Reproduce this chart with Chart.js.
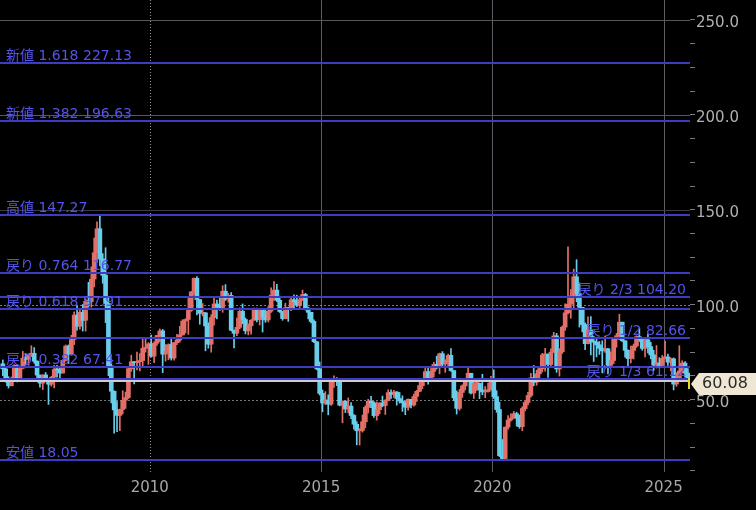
<!DOCTYPE html>
<html>
<head>
<meta charset="utf-8">
<script src="https://cdn.jsdelivr.net/npm/chart.js@4.4.1/dist/chart.umd.min.js"></script>
<style>
  html, body { margin: 0; padding: 0; background: #000; }
  #wrap { width: 756px; height: 510px; position: relative; }
</style>
</head>
<body>
<div id="wrap"><canvas id="chart"></canvas></div>
<script>
// monthly candles, Sep 2005 .. Sep 2025 (last one runs to the current price)
const firstYear = 2005;
const firstMonth = 9;

const open = [
  68.9, 66.2, 59.8, 57.3,
  61.0, 67.9, 61.4, 66.6, 71.9, 71.3, 73.9, 74.4, 70.3, 62.9, 58.7, 63.0,
  61.0, 58.1, 61.8, 65.9, 65.7, 64.0, 70.7, 78.2, 74.0, 81.7, 94.5, 88.7,
  96.0, 91.8, 101.8, 101.6, 113.5, 127.4, 140.0, 124.1, 115.5, 100.6, 67.8, 54.4,
  44.6, 41.7, 44.8, 49.7, 51.1, 66.3, 69.9, 69.5, 70.0, 70.6, 77.0, 77.3,
  79.4, 72.9, 79.7, 83.8, 86.2, 74.0, 75.6, 79.0, 71.9, 80.0, 81.4, 84.1,
  91.4, 92.2, 97.0, 106.7, 113.9, 102.7, 95.4, 95.7, 88.8, 79.2, 93.2, 100.4,
  98.8, 98.5, 107.1, 103.0, 104.9, 86.5, 85.0, 88.1, 96.5, 92.2, 86.2, 88.9,
  91.8, 97.5, 92.1, 97.2, 93.5, 92.0, 96.6, 105.0, 107.7, 102.3, 96.4, 92.7,
  98.4, 97.5, 102.6, 101.6, 99.7, 102.7, 105.4, 98.2, 96.0, 91.2, 80.5, 66.2,
  53.3, 48.2, 49.8, 47.6, 59.6, 60.3, 59.5, 47.1, 49.2, 45.1, 46.6, 41.7,
  37.0, 33.6, 33.8, 38.3, 45.9, 49.1, 48.3, 41.6, 44.7, 48.2, 46.9, 49.4,
  53.7, 52.8, 54.0, 50.6, 49.3, 48.3, 46.0, 50.2, 47.2, 51.7, 54.4, 57.4,
  60.4, 64.7, 61.6, 64.9, 68.6, 67.0, 74.2, 68.8, 69.8, 73.3, 65.3, 50.9,
  45.4, 53.8, 57.2, 60.1, 63.9, 53.5, 58.5, 58.6, 55.1, 54.1, 54.2, 55.2,
  61.1, 51.6, 44.8, 20.5, 19.0, 35.5, 39.3, 40.3, 42.6, 40.2, 35.8, 45.3,
  48.5, 52.2, 61.5, 59.2, 63.6, 66.3, 73.5, 74.0, 68.5, 75.0, 83.6, 66.2,
  75.2, 88.2, 95.7, 100.3, 104.7, 114.7, 105.8, 98.6, 89.6, 79.5, 86.5, 80.6,
  80.3, 78.9, 77.1, 75.7, 76.8, 68.1, 70.6, 81.8, 83.6, 90.8, 81.0, 76.0,
  71.7, 75.9, 78.3, 83.2, 81.9, 77.0, 81.5, 77.9, 73.6, 68.2, 69.3, 68.0,
  71.7, 72.5, 69.8, 71.5, 58.2, 60.8, 65.1, 69.3, 64.0
];
const high = [
  70.9, 66.5, 62.1, 61.9,
  68.4, 68.2, 67.2, 75.4, 74.2, 74.1, 78.4, 77.4, 70.4, 62.9, 63.1, 64.3,
  61.1, 62.3, 68.1, 68.1, 66.7, 70.8, 78.8, 78.8, 83.9, 96.2, 99.3, 97.0,
  100.1, 103.0, 111.8, 119.9, 135.1, 143.7, 147.27, 126.9, 130.0, 103.9, 71.3, 54.6,
  49.0, 45.0, 54.7, 54.0, 66.5, 73.4, 70.0, 75.0, 74.2, 82.0, 82.0, 80.0,
  84.0, 80.5, 83.9, 87.2, 87.0, 79.0, 79.4, 82.8, 80.0, 84.4, 88.6, 92.1,
  92.6, 103.4, 107.0, 114.0, 114.8, 102.7, 100.6, 95.9, 90.5, 94.7, 103.4, 102.4,
  103.7, 110.0, 110.6, 106.0, 106.4, 86.6, 92.9, 98.3, 100.4, 93.0, 89.9, 92.2,
  98.2, 98.2, 97.6, 97.8, 97.0, 99.0, 108.9, 112.2, 110.7, 104.5, 96.4, 100.8,
  98.6, 104.0, 105.2, 105.0, 104.5, 107.7, 106.0, 98.7, 96.0, 92.0, 80.5, 69.9,
  55.1, 54.2, 52.5, 59.9, 62.6, 61.6, 59.6, 49.3, 49.4, 50.9, 48.4, 42.1,
  38.4, 34.7, 41.9, 46.8, 50.2, 51.7, 49.0, 48.8, 48.4, 51.9, 50.0, 55.2,
  55.2, 54.9, 54.3, 53.8, 52.0, 49.0, 50.4, 50.2, 52.9, 54.9, 59.1, 60.5,
  66.7, 66.7, 66.6, 69.6, 72.9, 74.5, 75.3, 71.0, 74.0, 76.9, 65.4, 54.6,
  55.4, 57.8, 60.7, 66.6, 63.9, 59.9, 60.9, 58.8, 63.4, 56.9, 58.7, 62.3,
  65.7, 54.7, 48.7, 29.0, 35.6, 41.6, 42.5, 43.8, 43.4, 41.9, 46.3, 49.4,
  53.9, 63.8, 68.0, 65.5, 67.0, 74.4, 77.0, 74.0, 76.7, 85.4, 84.9, 76.9,
  88.8, 100.5, 130.5, 108.0, 118.7, 123.7, 111.5, 98.6, 90.4, 93.6, 93.7, 83.3,
  82.7, 80.6, 81.0, 83.5, 77.0, 75.1, 82.0, 84.9, 95.0, 90.8, 81.0, 76.2,
  78.2, 79.3, 83.6, 87.7, 82.0, 82.3, 84.5, 80.2, 76.0, 78.5, 72.1, 73.3,
  80.8, 74.0, 72.0, 72.0, 64.2, 78.4, 70.5, 70.0, 66.4
];
const low = [
  62.6, 59.2, 56.1, 57.3,
  60.8, 59.3, 59.6, 66.2, 68.3, 68.1, 72.6, 69.2, 59.5, 56.6, 55.3, 60.0,
  47.5, 57.1, 56.2, 61.9, 61.4, 64.0, 70.3, 69.0, 73.9, 79.0, 86.6, 87.1,
  86.1, 86.1, 98.7, 98.7, 109.3, 122.2, 120.4, 111.3, 90.5, 62.6, 48.3, 32.4,
  33.2, 33.6, 42.5, 45.4, 50.6, 64.9, 58.3, 65.6, 65.1, 67.1, 75.0, 68.6,
  72.4, 69.5, 78.5, 80.6, 64.2, 70.3, 71.0, 70.8, 70.8, 79.0, 80.3, 84.0,
  85.1, 84.4, 96.5, 105.0, 94.6, 89.7, 94.1, 75.7, 77.1, 75.0, 89.2, 92.5,
  97.0, 96.0, 102.2, 101.3, 86.2, 77.3, 83.7, 87.3, 90.0, 84.6, 84.1, 84.5,
  91.8, 90.9, 89.3, 85.6, 90.7, 90.9, 95.9, 102.2, 101.6, 95.9, 91.8, 92.5,
  91.2, 96.8, 97.4, 99.0, 98.0, 102.2, 97.2, 92.5, 90.4, 80.0, 65.7, 52.4,
  43.6, 47.4, 42.0, 47.0, 56.5, 57.4, 46.7, 37.8, 43.2, 43.0, 40.0, 34.5,
  26.2, 26.1, 32.9, 35.2, 43.0, 45.8, 40.6, 39.2, 42.5, 46.2, 42.2, 49.4,
  50.7, 51.2, 47.1, 48.2, 43.8, 42.1, 44.4, 45.6, 46.5, 49.1, 54.2, 55.8,
  59.9, 58.1, 60.1, 62.0, 66.2, 63.6, 67.0, 64.4, 67.0, 64.9, 49.4, 42.4,
  44.4, 51.2, 55.1, 60.1, 53.0, 50.6, 54.8, 50.5, 52.6, 51.0, 54.0, 55.0,
  50.6, 43.3, 20.0, 18.05, 18.2, 34.4, 38.7, 40.2, 36.1, 34.9, 33.6, 44.1,
  47.2, 51.3, 57.3, 57.6, 61.6, 64.6, 65.0, 61.7, 67.6, 74.9, 64.4, 62.4,
  74.3, 86.5, 95.2, 92.9, 98.2, 101.5, 88.2, 85.7, 76.3, 79.3, 73.6, 70.1,
  72.5, 73.8, 64.1, 74.9, 63.6, 66.8, 69.0, 77.6, 81.6, 80.6, 72.4, 67.7,
  69.3, 71.4, 77.5, 80.7, 76.0, 72.5, 74.6, 71.5, 65.3, 66.6, 66.8, 67.2,
  71.5, 68.0, 65.2, 55.1, 57.0, 60.7, 64.0, 61.9, 60.0
];
const close = [
  66.24, 59.76, 57.32, 61.04,
  67.92, 61.41, 66.63, 71.88, 71.29, 73.93, 74.40, 70.26, 62.91, 58.73, 62.97, 61.05,
  58.14, 61.79, 65.87, 65.71, 64.01, 70.68, 78.21, 74.04, 81.66, 94.53, 88.71, 95.98,
  91.75, 101.84, 101.58, 113.46, 127.35, 140.00, 124.08, 115.46, 100.64, 67.81, 54.43, 44.60,
  41.68, 44.76, 49.66, 51.12, 66.31, 69.89, 69.45, 70.00, 70.61, 77.00, 77.28, 79.36,
  72.89, 79.66, 83.76, 86.15, 73.97, 75.63, 78.95, 71.92, 79.97, 81.43, 84.11, 91.38,
  92.19, 96.97, 106.72, 113.93, 102.70, 95.42, 95.70, 88.81, 79.20, 93.19, 100.36, 98.83,
  98.48, 107.07, 103.02, 104.87, 86.53, 84.96, 88.06, 96.47, 92.19, 86.24, 88.91, 91.82,
  97.49, 92.05, 97.23, 93.46, 91.97, 96.56, 105.03, 107.65, 102.33, 96.38, 92.72, 98.42,
  97.49, 102.59, 101.58, 99.74, 102.71, 105.37, 98.17, 95.96, 91.16, 80.54, 66.15, 53.27,
  48.24, 49.76, 47.60, 59.63, 60.30, 59.47, 47.12, 49.20, 45.09, 46.59, 41.65, 37.04,
  33.62, 33.75, 38.34, 45.92, 49.10, 48.33, 41.60, 44.70, 48.24, 46.86, 49.44, 53.72,
  52.81, 54.01, 50.60, 49.33, 48.32, 46.04, 50.17, 47.23, 51.67, 54.38, 57.40, 60.42,
  64.73, 61.64, 64.94, 68.57, 67.04, 74.15, 68.76, 69.80, 73.25, 65.31, 50.93, 45.41,
  53.79, 57.22, 60.14, 63.91, 53.50, 58.47, 58.58, 55.10, 54.07, 54.18, 55.17, 61.06,
  51.56, 44.76, 20.48, 19.00, 35.49, 39.27, 40.27, 42.61, 40.22, 35.79, 45.34, 48.52,
  52.20, 61.50, 59.16, 63.58, 66.32, 73.47, 73.95, 68.50, 75.03, 83.57, 66.18, 75.21,
  88.15, 95.72, 100.28, 104.69, 114.67, 105.76, 98.62, 89.55, 79.49, 86.53, 80.55, 80.26,
  78.87, 77.05, 75.67, 76.78, 68.09, 70.64, 81.80, 83.63, 90.79, 81.02, 75.96, 71.65,
  75.85, 78.26, 83.17, 81.93, 76.99, 81.54, 77.91, 73.55, 68.17, 69.26, 68.00, 71.72,
  72.53, 69.76, 71.48, 58.21, 60.79, 65.11, 69.26, 64.01, 60.08
];

// fibonacci levels drawn across the chart
const fibValues = [227.13, 196.63, 147.27, 116.77, 104.20, 97.91, 82.66, 67.41, 61.12, 18.05];
const fibLabels = ['新値 1.618 227.13', '新値 1.382 196.63', '高値 147.27', '戻り 0.764 116.77',
  '戻り 2/3 104.20', '戻り 0.618 97.91', '戻り 1/2 82.66', '戻り 0.382 67.41', '戻り 1/3 61.12', '安値 18.05'];

const yearTicks = [2010, 2015, 2020, 2025];
const priceTicks = [12.5, 25, 37.5, 50, 62.5, 75, 87.5, 100, 112.5, 125, 137.5, 150,
  162.5, 175, 187.5, 200, 212.5, 225, 237.5, 250];
const priceGrid = [50, 100, 150, 200, 250];

const xMin = 2005.626, xMax = 2025.77;
const yMin = 11.9, yMax = 260.45;

const UP = 'rgb(226,112,104)';
const DOWN = 'rgb(104,206,236)';
const FONT = '"DejaVu Sans", "Noto Sans CJK JP", sans-serif';

const xs = close.map((_, i) => firstYear + (firstMonth - 1 + i + 0.5) / 12);
const candleColor = ctx => close[ctx.dataIndex] >= open[ctx.dataIndex] ? UP : DOWN;

const overlay = {
  id: 'overlay',
  beforeDatasetsDraw(chart) {
    const {ctx, chartArea: a, scales: {x, y}} = chart;
    ctx.save();
    ctx.lineWidth = 1;
    yearTicks.forEach((v, i) => {
      const px = Math.round(x.getPixelForValue(v)) + 0.5;
      ctx.setLineDash(i === 0 ? [1, 2] : []);
      ctx.strokeStyle = i === 0 ? 'rgba(170,170,170,0.85)' : 'rgb(92,92,100)';
      ctx.beginPath(); ctx.moveTo(px, a.top); ctx.lineTo(px, a.bottom); ctx.stroke();
    });
    priceGrid.forEach(v => {
      const py = Math.round(y.getPixelForValue(v)) + 0.5;
      ctx.setLineDash(v <= 100 ? [2, 2] : []);
      ctx.strokeStyle = v <= 100 ? 'rgba(150,150,150,0.8)' : (v === 150 ? 'rgb(60,60,60)' : 'rgb(88,88,88)');
      ctx.beginPath(); ctx.moveTo(a.left, py); ctx.lineTo(a.right, py); ctx.stroke();
    });
    ctx.restore();
  },
  afterDatasetsDraw(chart) {
    const {ctx, chartArea: a, scales: {y}} = chart;
    ctx.save();
    ctx.font = '14px ' + FONT;
    ctx.textBaseline = 'alphabetic';
    fibValues.forEach((v, i) => {
      const py = Math.round(y.getPixelForValue(v));
      ctx.strokeStyle = 'rgb(60,60,196)';
      ctx.lineWidth = 2;
      ctx.beginPath(); ctx.moveTo(a.left, py); ctx.lineTo(a.right, py); ctx.stroke();
      const right = fibLabels[i].includes('/');
      ctx.fillStyle = 'rgb(84,84,232)';
      ctx.textAlign = right ? 'right' : 'left';
      ctx.fillText(fibLabels[i], right ? a.right - 4 : a.left + 6, py - 3);
    });

    // current price
    const last = close[close.length - 1];
    const py = Math.round(y.getPixelForValue(last));
    ctx.strokeStyle = 'rgb(206,202,214)';
    ctx.lineWidth = 2;
    ctx.beginPath(); ctx.moveTo(a.left, py); ctx.lineTo(a.right, py); ctx.stroke();

    ctx.fillStyle = '#efe7d3';
    ctx.beginPath();
    ctx.moveTo(a.right + 1, py + 3);
    ctx.lineTo(a.right + 9, py - 8);
    ctx.lineTo(chart.width, py - 8);
    ctx.lineTo(chart.width, py + 14);
    ctx.lineTo(a.right + 9, py + 14);
    ctx.closePath();
    ctx.fill();
    ctx.fillStyle = '#2b2b2b';
    ctx.font = '16px ' + FONT;
    ctx.textAlign = 'left';
    ctx.textBaseline = 'middle';
    ctx.fillText(last.toFixed(2), a.right + 12, py + 3);

    ctx.strokeStyle = '#e4dc20';
    ctx.lineWidth = 2;
    ctx.beginPath(); ctx.moveTo(a.right - 1, py - 3); ctx.lineTo(a.right - 1, py + 8); ctx.stroke();
    ctx.restore();
  }
};

new Chart(document.getElementById('chart'), {
  type: 'bar',
  data: {
    datasets: [
      {
        label: 'wick',
        data: xs.map((x, i) => ({x, y: [low[i], high[i]]})),
        backgroundColor: candleColor,
        barThickness: 1,
        grouped: false
      },
      {
        label: 'body',
        data: xs.map((x, i) => ({x, y: [open[i], close[i]]})),
        backgroundColor: candleColor,
        barThickness: 4,
        minBarLength: 1,
        grouped: false
      }
    ]
  },
  options: {
    responsive: true,
    maintainAspectRatio: false,
    animation: false,
    events: [],
    layout: { padding: 0 },
    plugins: { legend: { display: false }, tooltip: { enabled: false } },
    scales: {
      x: {
        type: 'linear',
        min: xMin,
        max: xMax,
        offset: false,
        grid: { display: false, drawTicks: false },
        border: { display: false },
        afterBuildTicks: s => { s.ticks = yearTicks.map(v => ({value: v})); },
        ticks: {
          autoSkip: false, maxRotation: 0, padding: 7,
          color: '#a8a8a8', font: { family: FONT, size: 15 },
          callback: v => String(v)
        },
        afterFit: s => { s.height = 38; s.paddingLeft = 0; s.paddingRight = 0; }
      },
      y: {
        type: 'linear',
        position: 'right',
        min: yMin,
        max: yMax,
        beginAtZero: false,
        grid: { drawOnChartArea: false, drawTicks: true, tickLength: 5, color: '#7a7a7a' },
        border: { display: false },
        afterBuildTicks: s => { s.ticks = priceTicks.map(v => ({value: v})); },
        ticks: {
          autoSkip: false, padding: 1, labelOffset: 3,
          color: '#b0b0b0', font: { family: FONT, size: 15 },
          callback: v => v % 50 === 0 ? v.toFixed(1) : ''
        },
        afterFit: s => { s.width = 66; s.paddingTop = 0; s.paddingBottom = 0; }
      }
    }
  },
  plugins: [overlay]
});
</script>
</body>
</html>
